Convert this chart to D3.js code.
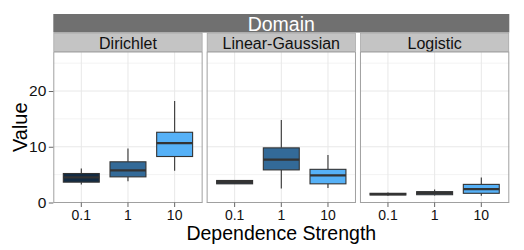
<!DOCTYPE html>
<html>
<head>
<meta charset="utf-8">
<script src="https://cdn.jsdelivr.net/npm/d3@7"></script>
<style>
  body { margin: 0; background: #fff; }
  text { font-family: "Liberation Sans", Arial, sans-serif; }
</style>
</head>
<body>
<div id="chart"></div>
<script>
// data (box stats: lower whisker, q1, median, q3, upper whisker)
var domains = ["Dirichlet", "Linear-Gaussian", "Logistic"]
var strengths = ["0.1", "1", "10"]
var yTicks = [0, 10, 20]
var yMinor = [5, 15, 25]

var dirichletStats = [
  [3.25, 3.65, 4.5, 5.2, 6.1],
  [3.8, 4.6, 5.75, 7.3, 9.7],
  [5.7, 8.25, 10.65, 12.6, 18.2]
]
var linearStats = [
  [3.3, 3.35, 3.65, 3.95, 4.05],
  [2.5, 5.85, 7.7, 9.8, 14.8],
  [2.6, 3.35, 4.85, 5.95, 8.5]
]
var logisticStats = [
  [1.2, 1.35, 1.5, 1.65, 1.8],
  [1.25, 1.4, 1.7, 1.95, 2.35],
  [1.2, 1.65, 2.4, 3.25, 4.5]
]
var statsByDomain = [dirichletStats, linearStats, logisticStats]

var W = 524, H = 250
var left = 53.3, right = 509.3, panelTop = 52, panelBottom = 202.5

var svg = d3.select("#chart").append("svg")
  .attr("width", W).attr("height", H)

// panel positions
var px = d3.scaleBand().domain(domains).range([left, right]).paddingInner(0.026)
var y = d3.scaleLinear().domain([0, 27]).range([panelBottom, panelTop])

// fill colour like ggplot's default continuous gradient (log10 strength)
var fillScale = d3.scaleLinear().domain([-1, 1])
  .range(["#132B43", "#56B1F7"]).interpolate(d3.interpolateLab)

// outer strip
svg.append("rect")
  .attr("x", left).attr("y", 14).attr("width", right - left).attr("height", 18.5)
  .attr("fill", "#707070")
svg.append("text")
  .attr("x", (left + right) / 2).attr("y", 30.5)
  .attr("text-anchor", "middle").attr("font-size", 19.5).attr("fill", "#fff")
  .text("Domain")

domains.forEach(function(dom, di) {
  var x0 = px(dom), pw = px.bandwidth()
  var x = d3.scaleBand().domain(strengths).range([x0, x0 + pw])
    .paddingInner(0).paddingOuter(0.1)
  var g = svg.append("g")

  // inner strip
  g.append("rect")
    .attr("x", x0 + 0.5).attr("y", 33).attr("width", pw - 1).attr("height", 18.5)
    .attr("fill", "#c4c4c4").attr("stroke", "#999").attr("stroke-width", 0.6)
  g.append("text")
    .attr("x", x0 + pw / 2).attr("y", 48.5)
    .attr("text-anchor", "middle").attr("font-size", 16).attr("fill", "#111")
    .text(dom)

  // grid
  g.selectAll(".minor").data(yMinor).enter().append("line")
    .attr("x1", x0).attr("x2", x0 + pw)
    .attr("y1", function(d) { return y(d) }).attr("y2", function(d) { return y(d) })
    .attr("stroke", "#f3f3f3").attr("stroke-width", 1)
  g.selectAll(".major").data(yTicks).enter().append("line")
    .attr("x1", x0).attr("x2", x0 + pw)
    .attr("y1", function(d) { return y(d) }).attr("y2", function(d) { return y(d) })
    .attr("stroke", "#e8e8e8").attr("stroke-width", 1)
  g.selectAll(".vmajor").data(strengths).enter().append("line")
    .attr("x1", function(d) { return x(d) + x.bandwidth() / 2 })
    .attr("x2", function(d) { return x(d) + x.bandwidth() / 2 })
    .attr("y1", panelTop).attr("y2", panelBottom)
    .attr("stroke", "#e8e8e8").attr("stroke-width", 1)

  // boxes
  var stats = statsByDomain[di]
  var bw = x.bandwidth() * 0.77
  var box = g.selectAll(".box").data(stats).enter().append("g")
    .attr("transform", function(d, i) {
      return "translate(" + (x(strengths[i]) + x.bandwidth() / 2) + ",0)"
    })
  box.append("line")
    .attr("y1", function(d) { return y(d[0]) }).attr("y2", function(d) { return y(d[1]) })
    .attr("stroke", "#333").attr("stroke-width", 1.1)
  box.append("line")
    .attr("y1", function(d) { return y(d[3]) }).attr("y2", function(d) { return y(d[4]) })
    .attr("stroke", "#333").attr("stroke-width", 1.1)
  box.append("rect")
    .attr("x", -bw / 2).attr("width", bw)
    .attr("y", function(d) { return y(d[3]) })
    .attr("height", function(d) { return y(d[1]) - y(d[3]) })
    .attr("fill", function(d, i) { return fillScale(Math.log10(+strengths[i])) })
    .attr("stroke", "#333").attr("stroke-width", 1.1)
  box.append("line")
    .attr("x1", -bw / 2).attr("x2", bw / 2)
    .attr("y1", function(d) { return y(d[2]) }).attr("y2", function(d) { return y(d[2]) })
    .attr("stroke", "#333").attr("stroke-width", 2.2)

  // panel border
  g.append("rect")
    .attr("x", x0 + 0.5).attr("y", panelTop).attr("width", pw - 1)
    .attr("height", panelBottom - panelTop)
    .attr("fill", "none").attr("stroke", "#a0a0a0").attr("stroke-width", 1)

  // x axis
  var xa = g.append("g").attr("transform", "translate(0," + panelBottom + ")")
    .call(d3.axisBottom(x).tickSize(4.5).tickPadding(3))
  xa.select(".domain").remove()
  xa.selectAll("line").attr("stroke", "#666")
  xa.selectAll("text").attr("font-size", 14).attr("fill", "#111")
})

// y axis
var ya = svg.append("g").attr("transform", "translate(" + left + ",0)")
  .call(d3.axisLeft(y).tickValues(yTicks).tickSize(4.5).tickPadding(2.5))
ya.select(".domain").remove()
ya.selectAll("line").attr("stroke", "#666")
ya.selectAll("text").attr("font-size", 15.5).attr("fill", "#111")

// axis titles
svg.append("text")
  .attr("x", (left + right) / 2).attr("y", 240)
  .attr("text-anchor", "middle").attr("font-size", 19.5).attr("fill", "#000")
  .text("Dependence Strength")
svg.append("text")
  .attr("transform", "translate(27," + ((panelTop + panelBottom) / 2) + ") rotate(-90)")
  .attr("text-anchor", "middle").attr("font-size", 20).attr("fill", "#000")
  .text("Value")
</script>
</body>
</html>
